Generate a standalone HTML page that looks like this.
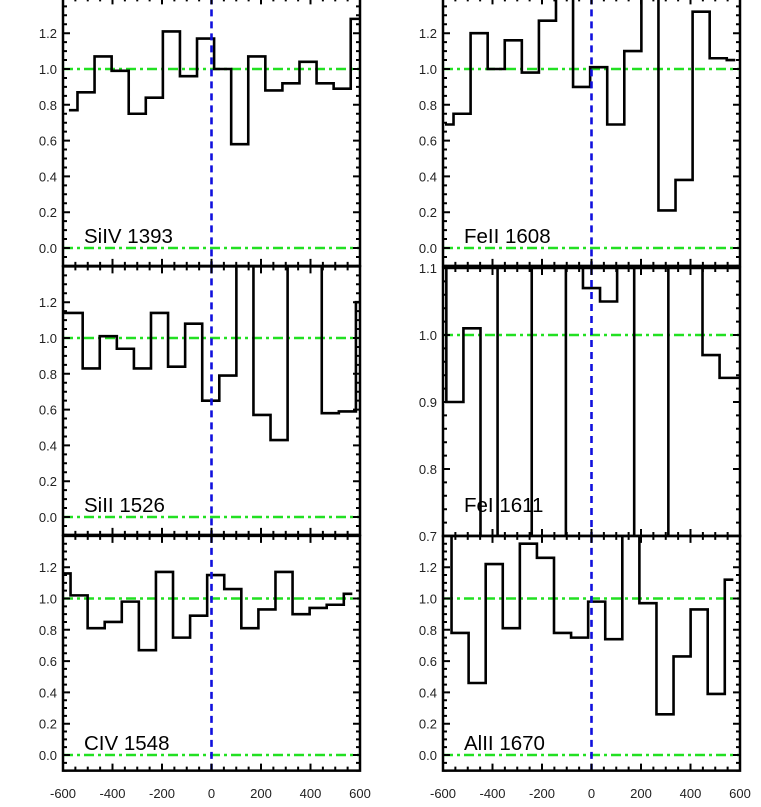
<!DOCTYPE html>
<html><head><meta charset="utf-8"><style>
html,body{margin:0;padding:0;background:#fff;}
svg{display:block;font-family:"Liberation Sans",sans-serif;}
</style></head><body>
<svg id="chart" width="761" height="807" viewBox="0 0 761 807" xmlns="http://www.w3.org/2000/svg"></svg>
<script>
// ---- data ----
const siivVel = [-576,-507,-438,-369,-300,-231,-162,-93,-24,45,114,183,252,321,390,459,528,597];
const siivFlux = [0.77,0.87,1.07,0.99,0.75,0.84,1.21,0.96,1.17,1.0,0.58,1.07,0.88,0.92,1.04,0.92,0.89,1.28];
const siiiVel = [-624,-555,-486,-417,-348,-279,-210,-141,-72,-3,66,135,204,273,342,411,480,549,618];
const siiiFlux = [1.14,1.14,0.83,1.01,0.94,0.83,1.14,0.84,1.08,0.65,0.79,1.6,0.57,0.43,1.6,1.6,0.58,0.59,1.2];
const civVel = [-604,-535,-466,-397,-328,-259,-190,-121,-52,17,86,155,224,293,362,431,500,569];
const civFlux = [1.16,1.02,0.81,0.85,0.98,0.67,1.17,0.75,0.89,1.15,1.06,0.81,0.93,1.17,0.90,0.94,0.96,1.03];
const feiiVel = [-592,-523,-454,-385,-316,-247,-178,-109,-40,29,98,167,236,305,374,443,512,581];
const feiiFlux = [0.69,0.75,1.20,1.0,1.16,0.98,1.27,1.5,0.90,1.01,0.69,1.10,1.5,0.21,0.38,1.32,1.06,1.05];
const feiVel = [-621,-552,-483,-414,-345,-276,-207,-138,-69,0,69,138,207,276,345,414,483,552,621];
const feiFlux = [1.2,0.90,1.01,0.6,1.2,1.2,0.6,0.6,1.2,1.07,1.05,1.2,0.6,0.6,1.2,1.2,0.97,0.936,0.936];
const aliiVel = [-600,-531,-462,-393,-324,-255,-186,-117,-48,21,90,159,228,297,366,435,504,573];
const aliiFlux = [1.6,0.78,0.46,1.22,0.81,1.35,1.26,0.78,0.75,0.98,0.74,1.6,0.97,0.26,0.63,0.93,0.39,1.12];
const xTicks = [-600,-400,-200,0,200,400,600];
const yTicksStd = [0.0,0.2,0.4,0.6,0.8,1.0,1.2];
const yTicksFeI = [0.7,0.8,0.9,1.0,1.1];

const NS = "http://www.w3.org/2000/svg";
const svg = document.getElementById('chart');
function mk(tag, attrs, parent){const e=document.createElementNS(NS,tag);for(const k in attrs)e.setAttribute(k,attrs[k]);(parent||svg).appendChild(e);return e;}

const panels = [
 {id:'siiv',label:'SiIV 1393',vel:siivVel,flux:siivFlux,x0:63,x1:360,ymin:-0.1,ymax:1.4,ya:248,ys:179,ticks:yTicksStd,minor:0.05,green:[0,1],xlab:false},
 {id:'siii',label:'SiII 1526',vel:siiiVel,flux:siiiFlux,x0:63,x1:360,ymin:-0.1,ymax:1.4,ya:517,ys:179,ticks:yTicksStd,minor:0.05,green:[0,1],xlab:false},
 {id:'civ',label:'CIV 1548',vel:civVel,flux:civFlux,x0:63,x1:360,ymin:-0.1,ymax:1.4,ya:755,ys:156.5,ticks:yTicksStd,minor:0.05,green:[0,1],xlab:true},
 {id:'feii',label:'FeII 1608',vel:feiiVel,flux:feiiFlux,x0:443,x1:740,ymin:-0.1,ymax:1.4,ya:248,ys:179,ticks:yTicksStd,minor:0.05,green:[0,1],xlab:false},
 {id:'fei',label:'FeI  1611',vel:feiVel,flux:feiFlux,x0:443,x1:740,ymin:0.7,ymax:1.1,ya:335+670,ys:670,ticks:yTicksFeI,minor:0.02,green:[1],xlab:false},
 {id:'alii',label:'AlII 1670',vel:aliiVel,flux:aliiFlux,x0:443,x1:740,ymin:-0.1,ymax:1.4,ya:755,ys:156.5,ticks:yTicksStd,minor:0.05,green:[0,1],xlab:true}
];

panels.forEach((p,pi)=>{
  const xs = v => p.x0 + (v+600)/1200*(p.x1-p.x0);
  const ys = v => p.ya - p.ys*v;
  const top = ys(p.ymax), bot = ys(p.ymin);
  const g = mk('g',{});
  
  
  const cid = 'clip'+pi;
  const cp = mk('clipPath',{id:cid},g);
  mk('rect',{x:p.x0,y:top,width:p.x1-p.x0,height:bot-top},cp);
  p.green.forEach(gv=>{
    const l = mk('line',{x1:p.x0,x2:p.x1,y1:ys(gv),y2:ys(gv),stroke:'#22e022','stroke-width':2.6,'stroke-dasharray':'10,4,3,4'},g);
    
    
  });
  let d = '';
  const v = p.vel, f = p.flux;
  d += 'M'+xs(v[0])+','+ys(f[0]);
  for(let i=1;i<v.length;i++){
    const m = xs((v[i-1]+v[i])/2);
    d += ' L'+m+','+ys(f[i-1])+' L'+m+','+ys(f[i]);
  }
  d += ' L'+xs(v[v.length-1])+','+ys(f[f.length-1]);
  const path = mk('path',{d:d,fill:'none',stroke:'#000','stroke-width':2.6,'clip-path':'url(#'+cid+')'},g);
  
  
  const zl = mk('line',{x1:xs(0),x2:xs(0),y1:top,y2:bot,stroke:'#1010dd','stroke-width':2.6,'stroke-dasharray':'7,5'},g);
  
  
  const fr = mk('rect',{x:p.x0,y:top,width:p.x1-p.x0,height:bot-top,fill:'none',stroke:'#000','stroke-width':2.5},g);
  
  
  let td='';
  for(let xv=-600;xv<=600;xv+=50){
    const L = (xv%200===0)?7:4;
    const x = xs(xv);
    td += 'M'+x+','+bot+' v'+(-L)+' M'+x+','+top+' v'+L+' ';
  }
  for(let yv=p.ymin;yv<=p.ymax+1e-6;yv+=p.minor){
    const r = Math.round(yv*100)/100;
    const major = p.ticks.some(t=>Math.abs(t-r)<1e-6);
    const L = major?7:4;
    const y = ys(r);
    td += 'M'+p.x0+','+y+' h'+L+' M'+p.x1+','+y+' h'+(-L)+' ';
  }
  const tk = mk('path',{d:td,stroke:'#000','stroke-width':2,fill:'none'},g);
  
  
  p.ticks.forEach(t=>{
    const tx = mk('text',{x:p.x0-6,y:ys(t)+5,'text-anchor':'end','font-size':13,fill:'#222'},g);
    tx.textContent = t.toFixed(1);
    
    
  });
  if(p.xlab){
    xTicks.forEach(t=>{
      const tx = mk('text',{x:xs(t),y:798,'text-anchor':'middle','font-size':13,fill:'#222'},g);
      tx.textContent = String(t);
      
      
    });
  }
  const lb = mk('text',{x:p.x0+21,y:(p.id==='fei'?512:ys(0)-5),'font-size':20.5,fill:'#000'},g);
  lb.setAttribute('xml:space','preserve');
  lb.textContent = p.label;
  
  
});
</script>
</body></html>
